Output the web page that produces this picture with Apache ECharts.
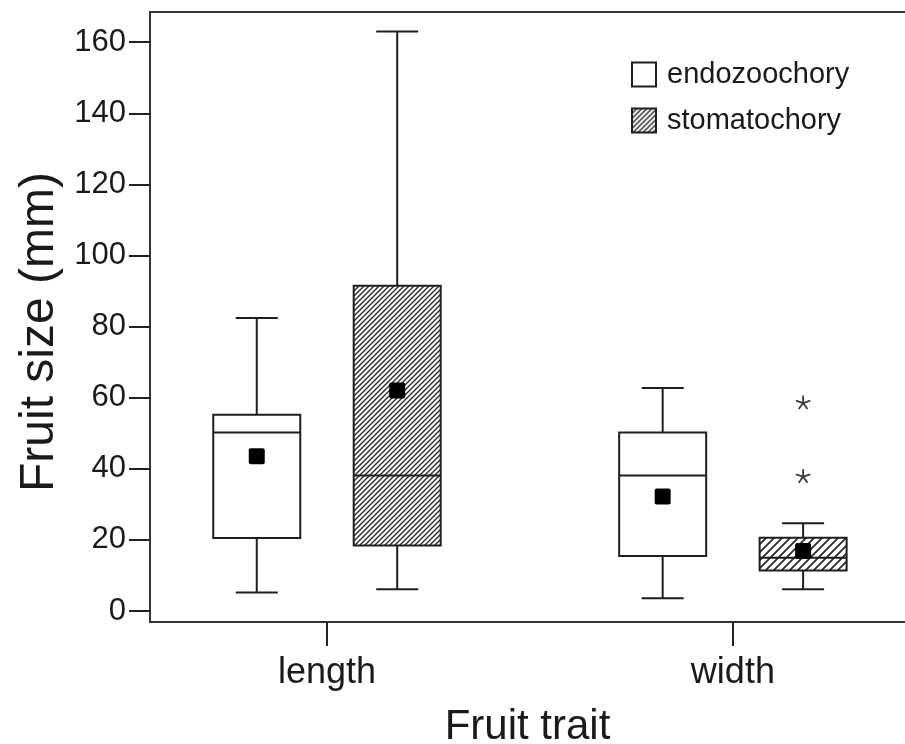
<!DOCTYPE html>
<html><head><meta charset="utf-8">
<script src="https://cdn.jsdelivr.net/npm/echarts@6/dist/echarts.min.js"></script>
<style>html,body{margin:0;padding:0;background:#fff}#c{width:905px;height:744px}</style>
</head><body><div id="c"></div>
<script>
// ---- data ----
const categories = ['length', 'width'];
const seriesNames = ['endozoochory', 'stomatochory'];
const endoMin    = [5.2, 3.6];
const endoQ1     = [20.5, 15.5];
const endoMedian = [50.2, 38.1];
const endoQ3     = [55.2, 50.2];
const endoMax    = [82.4, 62.7];
const endoMean   = [43.5, 32.2];
const stomaMin    = [6.1, 6.1];
const stomaQ1     = [18.4, 11.4];
const stomaMedian = [38.1, 15.0];
const stomaQ3     = [91.5, 20.6];
const stomaMax    = [163.0, 24.7];
const stomaMean   = [62.0, 16.9];
const stomaOutlierCategory = ['width', 'width'];
const stomaOutlierValue    = [58.5, 37.8];
const yTickValues = [0, 20, 40, 60, 80, 100, 120, 140, 160];

// ---- styling / layout constants ----
const FONT = "'Liberation Sans', Arial, Helvetica, sans-serif";
const INK = '#1e1e1e';
const BOX_W = 87, CAP_W = 42, MEAN_S = 16;
const GROUP_OFFSET = 0.173; // in category units
const X_MIN = 0.564, X_MAX = 2.424;

function makeHatch(step, lw) {
  const c = document.createElement('canvas');
  c.width = step; c.height = step;
  const ctx = c.getContext('2d');
  ctx.fillStyle = '#fff'; ctx.fillRect(0, 0, step, step);
  ctx.strokeStyle = '#2a2a2a'; ctx.lineWidth = lw;
  ctx.beginPath();
  ctx.moveTo(-1, step + 1); ctx.lineTo(step + 1, -1);
  ctx.moveTo(-2, 2); ctx.lineTo(2, -2);
  ctx.moveTo(step - 2, step + 2); ctx.lineTo(step + 2, step - 2);
  ctx.stroke();
  return { image: c, repeat: 'repeat' };
}
const hatchFine = makeHatch(5, 1.4);
const hatchCoarse = makeHatch(8, 1.8);

const catPos = name => categories.indexOf(name) + 1;
const endoData = categories.map((c, i) => [i + 1, endoMin[i], endoQ1[i], endoMedian[i], endoQ3[i], endoMax[i], endoMean[i]]);
const stomaData = categories.map((c, i) => [i + 1, stomaMin[i], stomaQ1[i], stomaMedian[i], stomaQ3[i], stomaMax[i], stomaMean[i]]);
const outlierData = stomaOutlierCategory.map((c, i) => [catPos(c), stomaOutlierValue[i]]);

function boxRender(offset, fills) {
  return function (params, api) {
    const x = api.value(0) + offset;
    const pMin = api.coord([x, api.value(1)]);
    const pQ1 = api.coord([x, api.value(2)]);
    const pMed = api.coord([x, api.value(3)]);
    const pQ3 = api.coord([x, api.value(4)]);
    const pMax = api.coord([x, api.value(5)]);
    const pMean = api.coord([x, api.value(6)]);
    const cx = pMed[0], hw = BOX_W / 2, cw = CAP_W / 2;
    const ls = { stroke: INK, lineWidth: 2 };
    return {
      type: 'group', children: [
        { type: 'line', shape: { x1: cx, y1: pQ3[1], x2: cx, y2: pMax[1] }, style: ls },
        { type: 'line', shape: { x1: cx, y1: pMin[1], x2: cx, y2: pQ1[1] }, style: ls },
        { type: 'line', shape: { x1: cx - cw, y1: pMax[1], x2: cx + cw, y2: pMax[1] }, style: ls },
        { type: 'line', shape: { x1: cx - cw, y1: pMin[1], x2: cx + cw, y2: pMin[1] }, style: ls },
        { type: 'rect', shape: { x: cx - hw, y: pQ3[1], width: BOX_W, height: pQ1[1] - pQ3[1] },
          style: { fill: fills[params.dataIndex], stroke: INK, lineWidth: 2 } },
        { type: 'line', shape: { x1: cx - hw, y1: pMed[1], x2: cx + hw, y2: pMed[1] }, style: ls },
        { type: 'rect', shape: { x: pMean[0] - MEAN_S / 2, y: pMean[1] - MEAN_S / 2, width: MEAN_S, height: MEAN_S, r: 2 },
          style: { fill: '#000' } }
      ]
    };
  };
}

function asteriskRender(params, api) {
  const p = api.coord([api.value(0) + GROUP_OFFSET, api.value(1)]);
  const children = [];
  for (let k = 0; k < 5; k++) {
    const a = (-90 + k * 72) * Math.PI / 180;
    children.push({ type: 'line', shape: { x1: p[0], y1: p[1], x2: p[0] + 7.5 * Math.cos(a), y2: p[1] + 7.5 * Math.sin(a) },
      style: { stroke: '#3a3a3a', lineWidth: 1.8 } });
  }
  return { type: 'group', children };
}

const chart = echarts.init(document.getElementById('c'), null, { renderer: 'canvas' });
chart.setOption({
  animation: false,
  backgroundColor: '#fff',
  grid: { left: 150, right: 0, top: 12, bottom: 122, show: false, outerBoundsMode: 'none', containLabel: false },
  legend: {
    orient: 'vertical', left: 631, top: 60, padding: 0, itemWidth: 24, itemHeight: 24, itemGap: 17, icon: 'rect',
    selectedMode: false,
    textStyle: { fontSize: 29, color: '#1a1a1a', fontFamily: FONT, padding: [0, 0, 0, 6] },
    data: [
      { name: seriesNames[0], itemStyle: { color: '#fff', borderColor: INK, borderWidth: 2 } },
      { name: seriesNames[1], itemStyle: { color: hatchFine, borderColor: INK, borderWidth: 2 } }
    ]
  },
  xAxis: [{
    type: 'value', min: X_MIN, max: X_MAX, position: 'bottom',
    name: 'Fruit trait', nameLocation: 'middle', nameGap: 84,
    nameTextStyle: { fontSize: 42, color: '#1a1a1a', fontFamily: FONT },
    axisLine: { show: true, onZero: false, lineStyle: { color: '#333', width: 2 } },
    axisTick: { show: true, customValues: [1, 2], length: 24, lineStyle: { color: '#222', width: 2 } },
    axisLabel: { customValues: [1, 2], margin: 33, fontSize: 36, color: '#1a1a1a', fontFamily: FONT,
      formatter: v => categories[Math.round(v) - 1] },
    splitLine: { show: false }
  }, {
    type: 'value', min: X_MIN, max: X_MAX, position: 'top',
    axisLine: { show: true, onZero: false, lineStyle: { color: '#333', width: 2 } },
    axisTick: { show: false }, axisLabel: { show: false }, splitLine: { show: false }
  }],
  yAxis: {
    type: 'value', min: -3.1, max: 168.5,
    name: 'Fruit size (mm)', nameLocation: 'middle', nameGap: 86,
    nameTextStyle: { fontSize: 48, color: '#1a1a1a', fontFamily: FONT, padding: [0, 30, 0, 0] },
    axisLine: { show: true, onZero: false, lineStyle: { color: '#333', width: 2 } },
    axisTick: { show: true, customValues: yTickValues, length: 21, lineStyle: { color: '#222', width: 2 } },
    axisLabel: { customValues: yTickValues, margin: 24, fontSize: 31, color: '#1a1a1a', fontFamily: FONT },
    splitLine: { show: false }
  },
  series: [
    { name: seriesNames[0], type: 'custom', data: endoData, renderItem: boxRender(-GROUP_OFFSET, ['#fff', '#fff']), z: 3 },
    { name: seriesNames[1], type: 'custom', data: stomaData, renderItem: boxRender(GROUP_OFFSET, [hatchFine, hatchCoarse]), z: 3 },
    { name: 'outliers', type: 'custom', data: outlierData, renderItem: asteriskRender, z: 3 }
  ]
});
</script>
</body></html>
